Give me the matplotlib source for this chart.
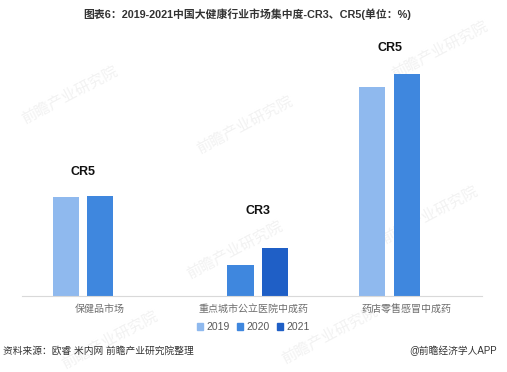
import matplotlib
matplotlib.use("Agg")
import matplotlib.pyplot as plt
from matplotlib.patches import Patch
import numpy as np

plt.rcParams['font.family'] = ['Liberation Sans', 'Noto Sans CJK SC', 'DejaVu Sans']

# data (unit: %), None = not shown
categories = ["保健品市场", "重点城市公立医院中成药", "药店零售感冒中成药"]
years = ["2019", "2020", "2021"]
v2019 = [26.8, None, 56.3]
v2020 = [26.9, 8.4, 59.9]
v2021 = [None, 13.0, None]
group_labels = ["CR5", "CR3", "CR5"]
colors = ["#8fb9ee", "#3f87de", "#1f5fc6"]

fig = plt.figure(figsize=(5.07, 3.72), dpi=100)

# watermarks, behind the chart
for wx, wy in [(70, 95), (245, 125), (440, 50), (235, 250), (430, 215), (110, 340), (330, 335)]:
    fig.text(wx/507, 1 - wy/372, "前瞻产业研究院", fontsize=11, color='#f2f2f2',
             rotation=28, ha='center', va='center', zorder=0)

ax = fig.add_axes([22/507, 76/372, 460/507, 266/372], zorder=1)
ax.patch.set_alpha(0)

x = np.arange(len(categories))
width = 0.17
step = 0.225
shift = [0, -0.085, 0]  # group 2 bars sit a bit left of its label
label_gap = [6.5, 10, 7]

series = [v2019, v2020, v2021]
for i, vals in enumerate(series):
    for j, v in enumerate(vals):
        if v is None:
            continue
        ax.bar(x[j] + shift[j] + (i - 1) * step, v, width, color=colors[i], zorder=2)

# CR labels above each group
for j in range(len(categories)):
    pos = [x[j] + shift[j] + (i - 1) * step for i in range(3) if series[i][j] is not None]
    top = max(series[i][j] for i in range(3) if series[i][j] is not None)
    ax.text(np.mean(pos), top + label_gap[j], group_labels[j], ha='center', va='center',
            fontsize=9, fontweight='bold', color='#111111')

ax.set_xlim(-0.51, 2.49)
ax.set_ylim(0, 71.8)
ax.set_xticks(x)
ax.set_xticklabels(categories, fontsize=7.2, color='#6e6e6e')
ax.tick_params(axis='x', length=0, pad=6)
ax.set_yticks([])
for s in ['top', 'right', 'left']:
    ax.spines[s].set_visible(False)
ax.spines['bottom'].set_color('#d9d9d9')
ax.spines['bottom'].set_linewidth(0.8)

handles = [Patch(color=c) for c in colors]
fig.legend(handles, years, loc='center', bbox_to_anchor=(0.5, 1 - 327/372), ncol=3,
           frameon=False, fontsize=7.5, labelcolor='#595959', handlelength=0.6,
           handleheight=0.6, handletextpad=0.3, columnspacing=0.7)

fig.text(0.488, 1 - 14/372, "图表6：2019-2021中国大健康行业市场集中度-CR3、CR5(单位：%)",
         ha='center', va='center', fontsize=7.8, fontweight='bold', color='#333333')
fig.text(3/507, 1 - 351/372, "资料来源：欧睿 米内网 前瞻产业研究院整理",
         ha='left', va='center', fontsize=7, color='#333333')
fig.text(497/507, 1 - 351/372, "@前瞻经济学人APP",
         ha='right', va='center', fontsize=7, color='#333333')

fig.savefig("out.png", dpi=100, facecolor='white')
